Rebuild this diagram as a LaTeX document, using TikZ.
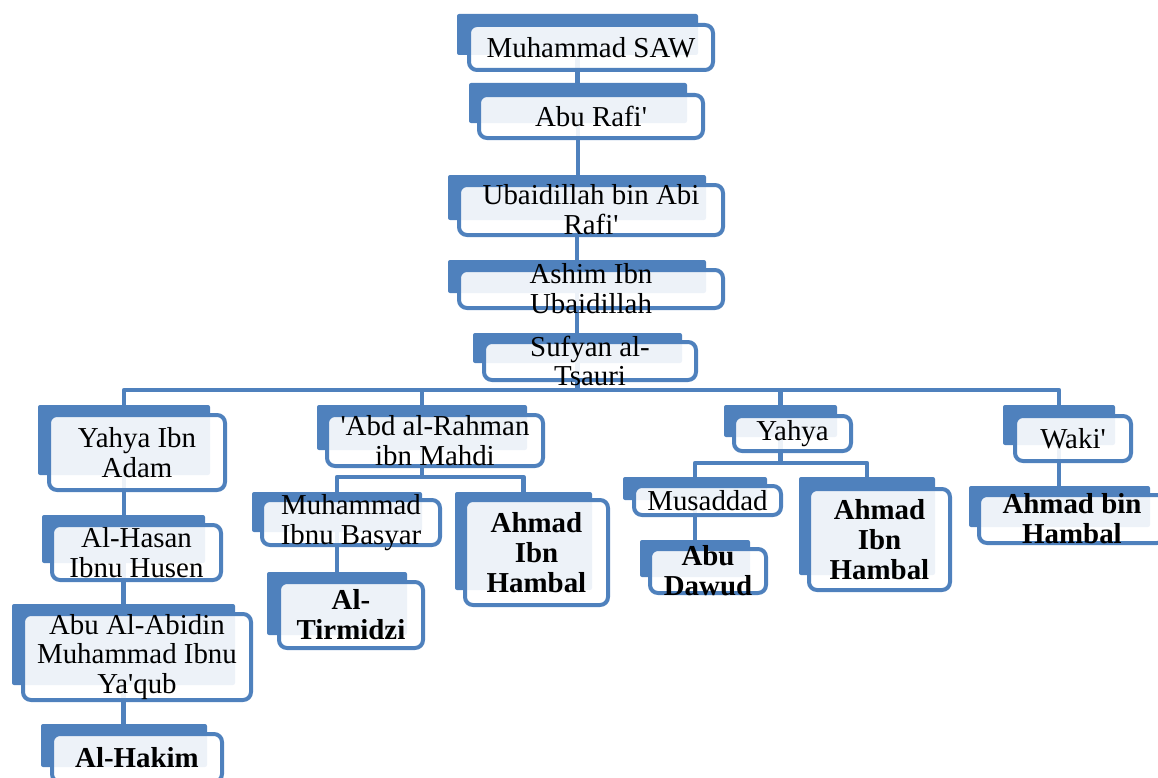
\documentclass[tikz,border=0pt]{standalone}
\usepackage{fontspec}
\setmainfont{Liberation Serif}
\usetikzlibrary{fit}
\definecolor{blueC}{HTML}{4F81BD}
\pgfdeclarelayer{lines}
\pgfsetlayers{lines,main}
\newcommand\apo{\textquotesingle}
\tikzset{
  backbox/.style={fill=blueC, draw=none, rounded corners=2bp, inner sep=0pt, outer sep=0pt},
  frontbox/.style={draw=blueC, line width=4bp, fill=white, fill opacity=0.9, rounded corners=8bp, inner sep=0pt, outer sep=0pt},
  txt/.style={font=\fontsize{29}{30}\selectfont, align=center, inner sep=0pt, text=black},
  btxt/.style={font=\fontsize{29}{30}\selectfont\bfseries, align=center, inner sep=0pt, text=black},
  conn/.style={draw=blueC, line width=4.5bp, line join=round},
}
\newcommand\mkbox[5]{%
  \node[backbox, fit={#2}] (#1) {};
  \node[frontbox, fit={#3}] (#1f) {};
  \node[#4] (#1t) at (#1f.center) {#5};
}
\begin{document}
\begin{tikzpicture}[x=1bp, y=-1bp]
\useasboundingbox (0,0) rectangle (1158,778);
\clip (0,0) rectangle (1158,778);

\mkbox{n1}{(457,14) (698,55)}{(469,25) (713,70)}{txt}{Muhammad SAW}
\mkbox{n2}{(469,83) (687,123)}{(479,95) (703,138)}{txt}{Abu Rafi\apo}
\mkbox{n3}{(448,175) (706,220)}{(459,185) (723,235)}{txt}{Ubaidillah bin Abi\\Rafi\apo}
\mkbox{n4}{(448,260) (706,293)}{(459,270) (723,308)}{txt}{Ashim Ibn\\Ubaidillah}
\mkbox{n5}{(473,333) (682,363)}{(484,342) (696,380)}{txt}{Sufyan al-\\Tsauri}

\mkbox{a1}{(38,405) (210,475)}{(49,415) (225,490)}{txt}{Yahya Ibn\\Adam}
\mkbox{a2}{(42,515) (205,563)}{(52,525) (221,580)}{txt}{Al-Hasan\\Ibnu Husen}
\mkbox{a3}{(12,604) (235,685)}{(23,614) (251,700)}{txt}{Abu Al-Abidin\\Muhammad Ibnu\\Ya\apo qub}
\mkbox{a4}{(41,724) (207,767)}{(52,734) (222,782)}{btxt}{Al-Hakim}

\mkbox{b1}{(317,405) (527,450)}{(327,415) (543,466)}{txt}{\apo Abd al-Rahman\\ibn Mahdi}
\mkbox{b2}{(252,492) (422,532)}{(262,500) (440,545)}{txt}{Muhammad\\Ibnu Basyar}
\mkbox{b3}{(455,492) (592,590)}{(465,500) (608,605)}{btxt}{Ahmad\\Ibn\\Hambal}
\mkbox{b4}{(267,572) (407,635)}{(279,582) (423,648)}{btxt}{Al-\\Tirmidzi}

\mkbox{c1}{(724,405) (837,437)}{(734,416) (851,451)}{txt}{Yahya}
\mkbox{c2}{(623,477) (767,500)}{(634,486) (781,515)}{txt}{Musaddad}
\mkbox{c3}{(799,477) (935,575)}{(809,489) (950,590)}{btxt}{Ahmad\\Ibn\\Hambal}
\mkbox{c4}{(640,540) (750,577)}{(650,549) (766,593)}{btxt}{Abu\\Dawud}

\mkbox{d1}{(1003,405) (1115,445)}{(1015,416) (1131,461)}{txt}{Waki\apo}
\mkbox{d2}{(969,486) (1150,527)}{(979,495) (1165,543)}{btxt}{Ahmad bin\\Hambal}

\coordinate (busM) at (577.5,390);
\coordinate (busB) at (422,477);
\coordinate (busC) at (780,463);

\begin{pgfonlayer}{lines}
  \draw[conn] (n1.south) -- (n1.south |- n2.north);
  \draw[conn] (n2.south) -- (n2.south |- n3.north);
  \draw[conn] (n3.south) -- (n3.south |- n4.north);
  \draw[conn] (n4.south) -- (n4.south |- n5.north);
  \draw[conn] (n5.south) -- (n5.south |- busM);
  \draw[conn] (a1.north) |- (d1.north |- busM) -- (d1.north);
  \draw[conn] (b1.north) -- (b1.north |- busM);
  \draw[conn] (c1.north) -- (c1.north |- busM);
  \draw[conn] (a1.south) -- (a1.south |- a2.north);
  \draw[conn] (a2.south) -- (a2.south |- a3.north);
  \draw[conn] (a3.south) -- (a3.south |- a4.north);
  \draw[conn] (b1.south) -- (b1.south |- busB);
  \draw[conn] (b2.north) |- (b3.north |- busB) -- (b3.north);
  \draw[conn] (b2.south) -- (b2.south |- b4.north);
  \draw[conn] (c1.south) -- (c1.south |- busC);
  \draw[conn] (c2.north) |- (c3.north |- busC) -- (c3.north);
  \draw[conn] (c2.south) -- (c2.south |- c4.north);
  \draw[conn] (d1.south) -- (d1.south |- d2.north);
\end{pgfonlayer}
\end{tikzpicture}
\end{document}
